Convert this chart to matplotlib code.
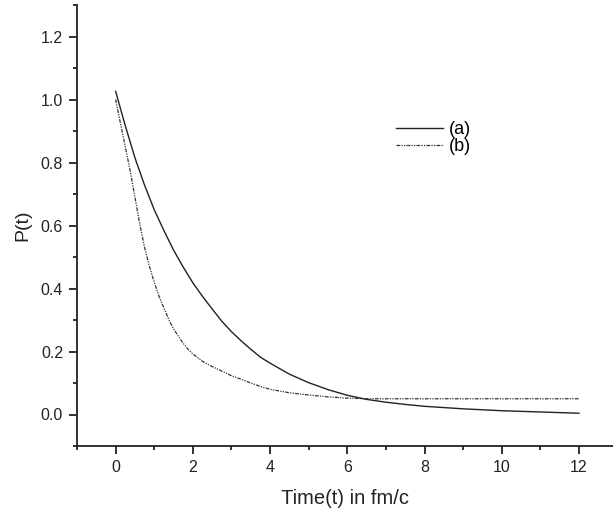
import matplotlib
matplotlib.use("Agg")
import matplotlib.pyplot as plt
from matplotlib.ticker import MultipleLocator

plt.rcParams['font.family'] = ['Liberation Sans', 'DejaVu Sans']

t_a = [0, 0.25, 0.5, 0.75, 1.0, 1.25, 1.5, 1.75, 2.0, 2.25, 2.5, 2.75, 3.0, 3.25,
       3.5, 3.75, 4.0, 4.5, 5.0, 5.5, 6.0, 6.5, 7.0, 7.5, 8.0, 8.5, 9.0, 9.5,
       10.0, 10.5, 11.0, 11.5, 12.0]
p_a = [1.026, 0.917, 0.815, 0.728, 0.650, 0.584, 0.522, 0.468, 0.418, 0.375, 0.335,
       0.296, 0.263, 0.234, 0.207, 0.182, 0.163, 0.128, 0.101, 0.079, 0.061, 0.048,
       0.039, 0.032, 0.026, 0.022, 0.018, 0.015, 0.012, 0.010, 0.008, 0.006, 0.004]

t_b = [0, 0.125, 0.25, 0.375, 0.5, 0.625, 0.75, 0.875, 1.0, 1.125, 1.25, 1.375, 1.5,
       1.625, 1.75, 1.875, 2.0, 2.25, 2.5, 2.75, 3.0, 3.25, 3.5, 3.75, 4.0, 4.5,
       5.0, 5.5, 6.0, 6.5, 7.0, 8.0, 9.0, 10.0, 11.0, 12.0]
p_b = [1.0, 0.925, 0.85, 0.775, 0.69, 0.605, 0.53, 0.47, 0.42, 0.375, 0.338, 0.302,
       0.272, 0.248, 0.226, 0.207, 0.192, 0.169, 0.152, 0.138, 0.123, 0.112, 0.100,
       0.089, 0.080, 0.069, 0.062, 0.056, 0.052, 0.050, 0.050, 0.050, 0.050, 0.050,
       0.050, 0.050]

labels = ['(a)', '(b)']

fig = plt.figure(figsize=(6.13, 5.14), dpi=100)
ax = fig.add_axes([77/613, 1-446/514, 1-77/613, (446-5)/514])

ax.plot(t_a, p_a, color='#222222', lw=1.0, ls='-', label=labels[0])
ax.plot(t_b, p_b, color='#333333', lw=0.9, ls=(0, (3, 1, 1, 1, 1, 1)), label=labels[1])

ax.set_xlim(-1, 12.88)
ax.set_ylim(-0.1, 1.3)
ax.xaxis.set_minor_locator(MultipleLocator(1))
ax.yaxis.set_minor_locator(MultipleLocator(0.1))
ax.set_xticks([0, 2, 4, 6, 8, 10, 12])
ax.set_yticks([0.0, 0.2, 0.4, 0.6, 0.8, 1.0, 1.2])
ax.set_yticklabels(['0.0', '0.2', '0.4', '0.6', '0.8', '1.0', '1.2'])

for s in ['top', 'right']:
    ax.spines[s].set_visible(False)
for s in ['left', 'bottom']:
    ax.spines[s].set_linewidth(1.3)
    ax.spines[s].set_color('#222222')

ax.tick_params(which='major', direction='out', length=6, width=1.3, colors='#222222',
               labelsize=11.5, labelcolor='#222222', pad=4)
ax.tick_params(which='minor', direction='out', length=3, width=1.3, colors='#222222')

ax.set_xlabel('Time(t) in fm/c', fontsize=14.5, color='#222222', labelpad=10)
ax.set_ylabel('P(t)', fontsize=14, color='#222222', labelpad=7)

ax.legend(loc='upper left', bbox_to_anchor=(391/613, 1-116/514), bbox_transform=fig.transFigure,
          frameon=False, fontsize=13, handlelength=2.6, handletextpad=0.3,
          labelspacing=0.0, borderaxespad=0, borderpad=0.3)

fig.savefig('out.png', dpi=100)
